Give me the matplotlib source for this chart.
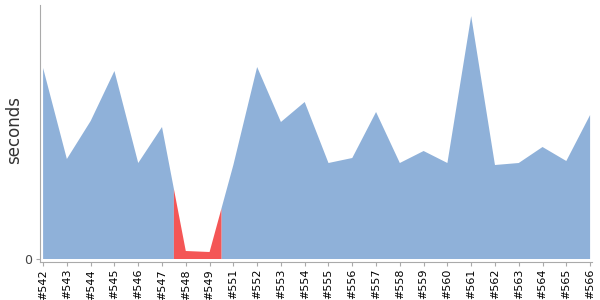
import matplotlib
matplotlib.use("Agg")
import matplotlib.pyplot as plt
import numpy as np

# build durations (seconds) and result
builds = ["#542", "#543", "#544", "#545", "#546", "#547", "#548", "#549",
          "#551", "#552", "#553", "#554", "#555", "#556", "#557", "#558",
          "#559", "#560", "#561", "#562", "#563", "#564", "#565", "#566"]
durations = [191, 100, 138, 188, 96, 132, 8, 7,
             94, 192, 137, 157, 96, 101, 147, 96,
             108, 96, 243, 94, 96, 112, 98, 144]
failed = [False, False, False, False, False, False, True, True,
          False, False, False, False, False, False, False, False,
          False, False, False, False, False, False, False, False]

BLUE = "#8fb1d9"
RED = "#f45656"

idx = np.arange(len(builds))
vals = np.array(durations, dtype=float)

# each build owns the half step on either side of its point
grid = np.linspace(0, len(builds) - 1, 4000)
halves = np.arange(len(builds) - 1) + 0.5
grid = np.sort(np.concatenate([grid, halves]))
curve = np.interp(grid, idx, vals)
owner = np.clip(np.floor(grid + 0.5).astype(int), 0, len(builds) - 1)
is_red = np.array(failed)[owner]
# include boundary points in both fills so they meet
red_mask = is_red.copy()
red_mask[np.isin(grid, halves)] = True
blue_mask = ~is_red
blue_mask[np.isin(grid, halves)] = True

fig = plt.figure(figsize=(6, 3), dpi=100)
ax = fig.add_axes([40 / 600, 38 / 300, 552 / 600, 257 / 300])

ax.fill_between(grid, 0, curve, where=blue_mask, color=BLUE, lw=0, interpolate=False)
ax.fill_between(grid, 0, curve, where=red_mask, color=RED, lw=0, interpolate=False)

ax.set_xlim(-0.13, len(builds) - 1 + 0.08)
ax.set_ylim(-3, 254)

ax.set_xticks(idx)
ax.set_xticklabels(builds, rotation=90, fontsize=8, color="black")
ax.set_yticks([0])
ax.set_yticklabels(["0"], fontsize=9, color="#444444")
ax.tick_params(axis="x", length=3, color="#aaaaaa", pad=2)
ax.tick_params(axis="y", length=3, color="#aaaaaa", pad=3)

for s in ["top", "right"]:
    ax.spines[s].set_visible(False)
for s in ["left", "bottom"]:
    ax.spines[s].set_color("#aaaaaa")
    ax.spines[s].set_linewidth(0.8)

fig.text(14 / 600, 170 / 300, "seconds", rotation=90, fontsize=12,
         color="#333333", ha="center", va="center")

fig.savefig("out.png", dpi=100)
